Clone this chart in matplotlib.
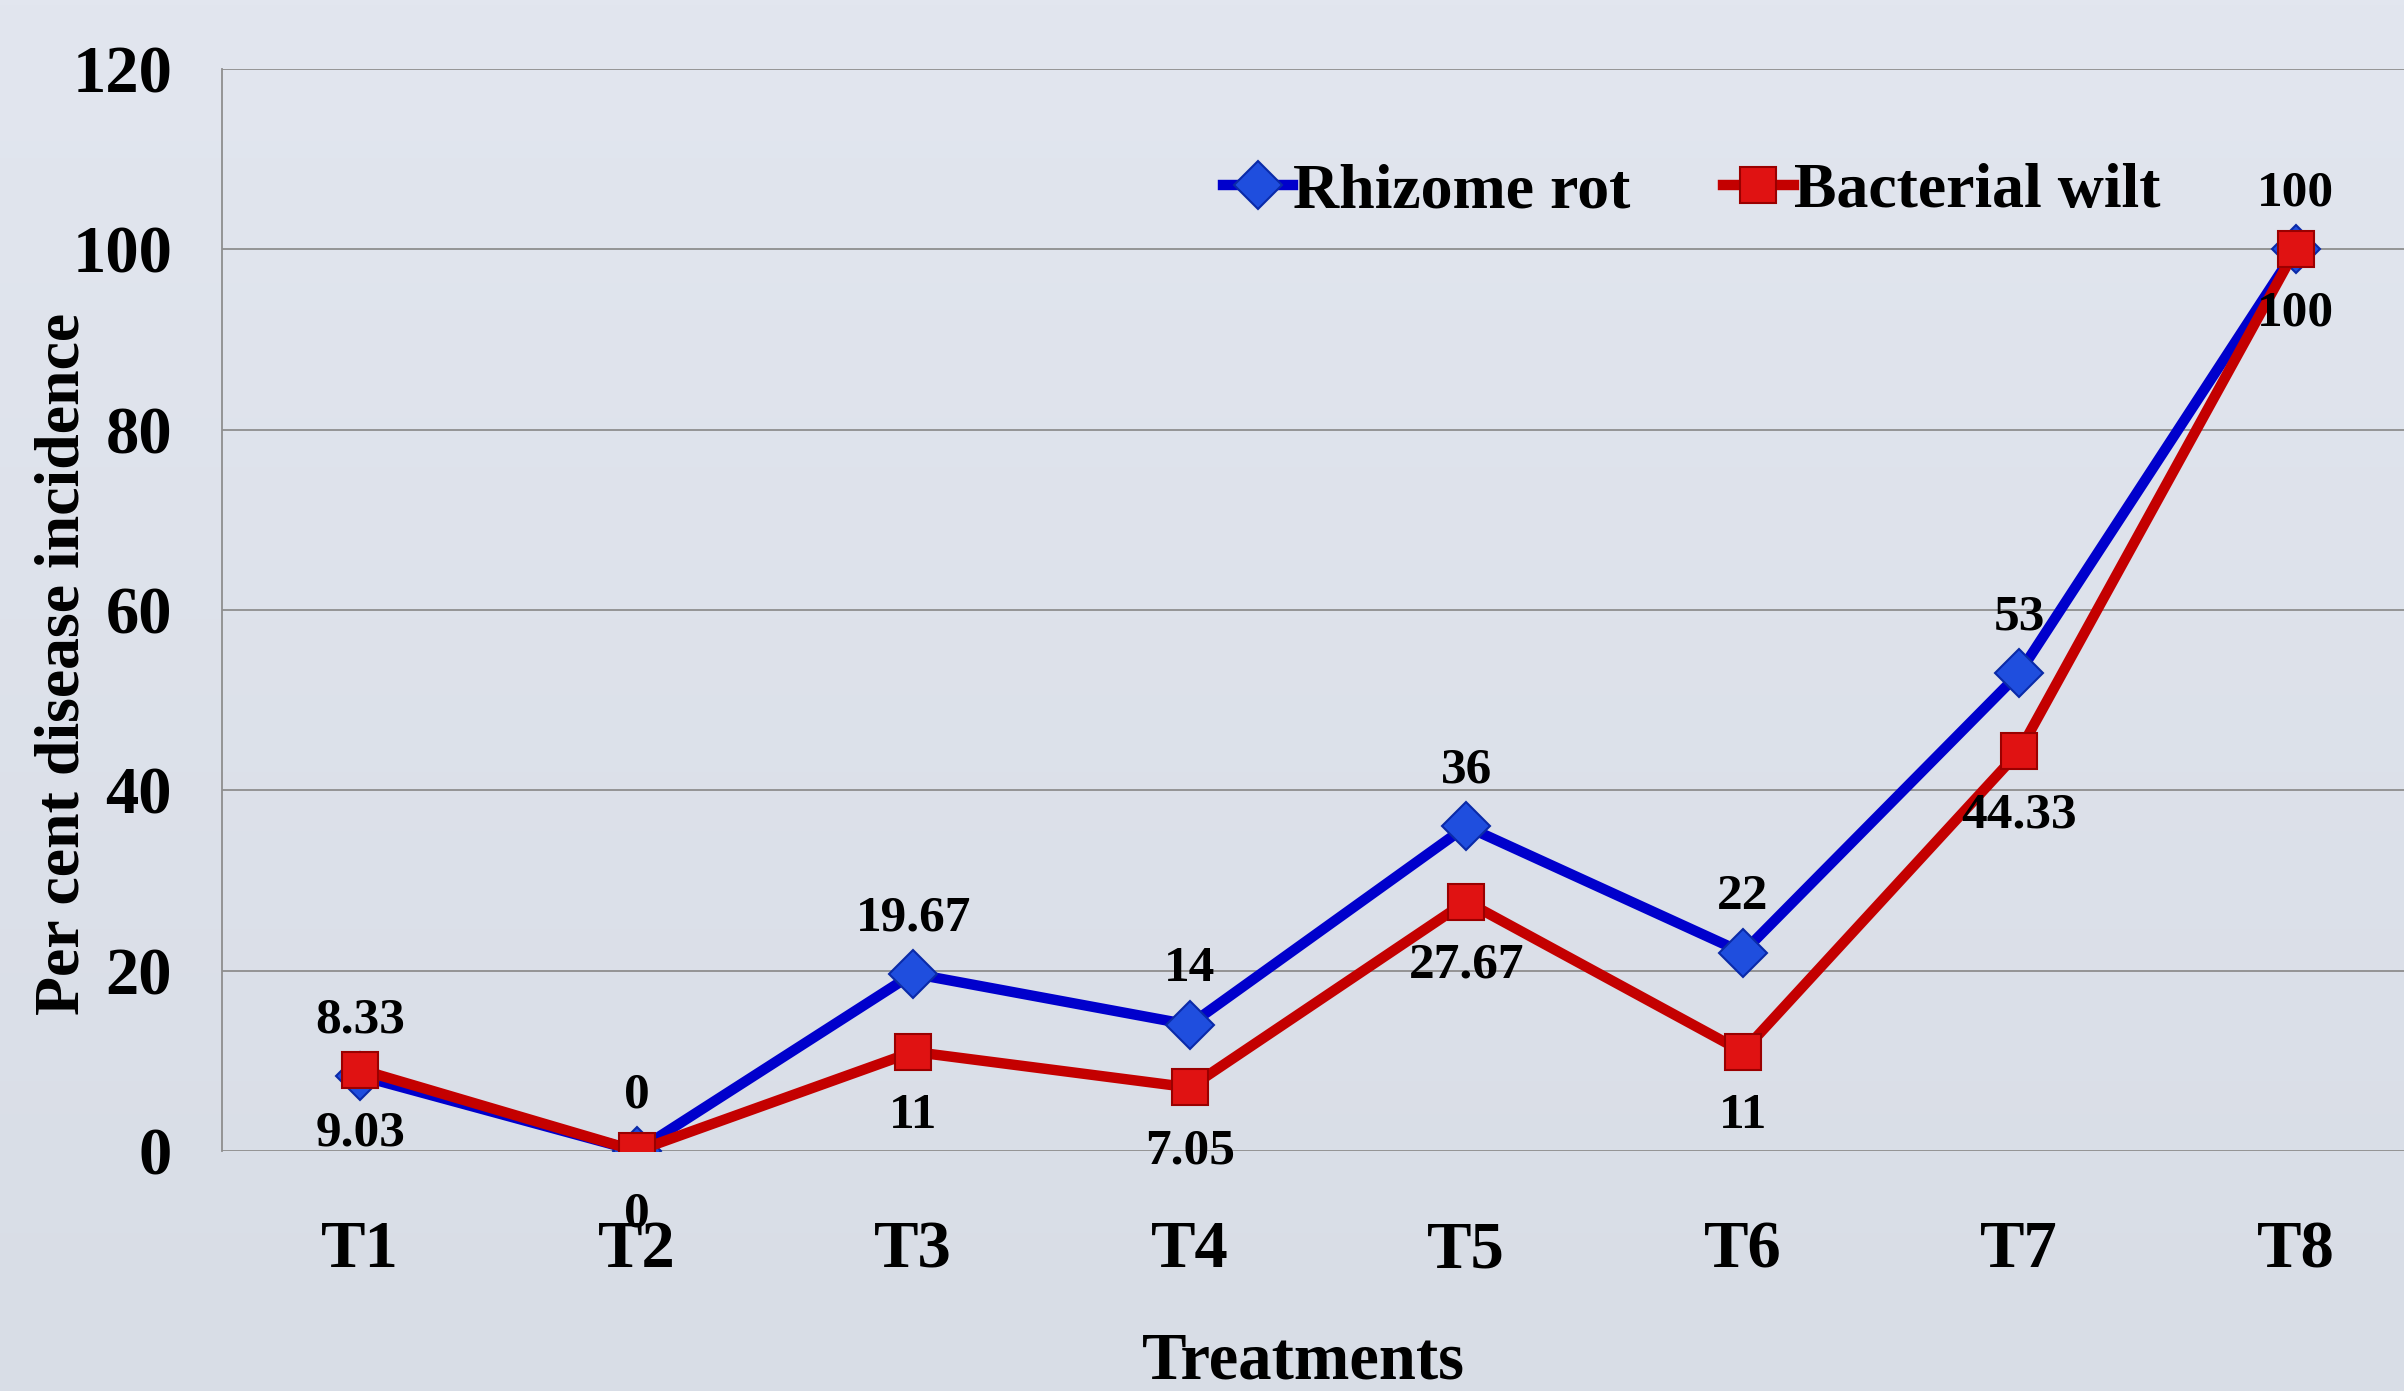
import numpy as np
import matplotlib
matplotlib.use("Agg")
import matplotlib.pyplot as plt

treatments = ["T1", "T2", "T3", "T4", "T5", "T6", "T7", "T8"]
rhizome_rot = [8.33, 0, 19.67, 14, 36, 22, 53, 100]
bacterial_wilt = [9.03, 0, 11, 7.05, 27.67, 11, 44.33, 100]
yticks = [0, 20, 40, 60, 80, 100, 120]

W, H = 2404, 1391
plt.rcParams['font.family'] = ['Liberation Serif', 'DejaVu Serif']
fig = plt.figure(figsize=(W / 100, H / 100), dpi=100)

# background gradient
bg = fig.add_axes([0, 0, 1, 1], zorder=-10)
grad = np.linspace(0, 1, 256).reshape(-1, 1)
top = np.array([0xe2, 0xe6, 0xef]) / 255
bot = np.array([0xd8, 0xdd, 0xe6]) / 255
img = top + (bot - top) * grad[:, :, None]
bg.imshow(img, aspect='auto', extent=[0, 1, 0, 1])
bg.axis('off')

left, right = 222 / W, 2434 / W
bottom, topy = 1 - 1151 / H, 1 - 69 / H
ax = fig.add_axes([left, bottom, right - left, topy - bottom])
ax.set_facecolor('none')

x = np.arange(len(treatments))
ax.plot(x, rhizome_rot, color='#0000cc', lw=7.5, marker='D', ms=24,
        mfc='#1f4ede', mec='#0a2aa8', mew=1.5, label='Rhizome rot', zorder=3)
ax.plot(x, bacterial_wilt, color='#c40000', lw=7.5, marker='s', ms=26,
        mfc='#e01212', mec='#9a0000', mew=1.5, label='Bacterial wilt', zorder=4)

def fmt(v):
    return ('%g' % v)

for xi, v in zip(x, rhizome_rot):
    ax.annotate(fmt(v), (xi, v), xytext=(0, 40), textcoords='offset points',
                ha='center', va='center', fontsize=37, fontweight='bold', zorder=6)
for xi, v in zip(x, bacterial_wilt):
    ax.annotate(fmt(v), (xi, v), xytext=(0, -46), textcoords='offset points',
                ha='center', va='center', fontsize=37, fontweight='bold', zorder=6)

ax.set_xlim(-0.5, len(treatments) - 0.5)
ax.set_ylim(0, 120)
ax.set_yticks(yticks)
ax.set_xticks(x)
ax.set_xticklabels(treatments)
ax.yaxis.grid(True, color='#8e8e8e', lw=1.3)
ax.set_axisbelow(True)
for s in ['top', 'right', 'bottom']:
    ax.spines[s].set_visible(False)
ax.spines['left'].set_color('#8e8e8e')
ax.spines['left'].set_linewidth(1.3)
ax.tick_params(axis='both', length=0, labelsize=48)
ax.tick_params(axis='y', pad=36)
ax.tick_params(axis='x', pad=50)
for lab in ax.get_xticklabels() + ax.get_yticklabels():
    lab.set_fontweight('bold')

fig.text(64 / W, 1 - 664 / H, 'Per cent disease incidence', rotation=90,
         ha='center', va='center', fontsize=46, fontweight='bold')
fig.text(1303 / W, 1 - 1362 / H, 'Treatments', ha='center', va='center',
         fontsize=48, fontweight='bold')

leg = ax.legend(loc='center left', bbox_to_anchor=(1191 / W, 1 - 192 / H),
                bbox_transform=fig.transFigure, ncol=2, frameon=False,
                prop={'size': 46, 'weight': 'bold'}, handlelength=1.1,
                handletextpad=0.0, columnspacing=1.45, borderpad=0)

fig.savefig('out.png', dpi=100)
